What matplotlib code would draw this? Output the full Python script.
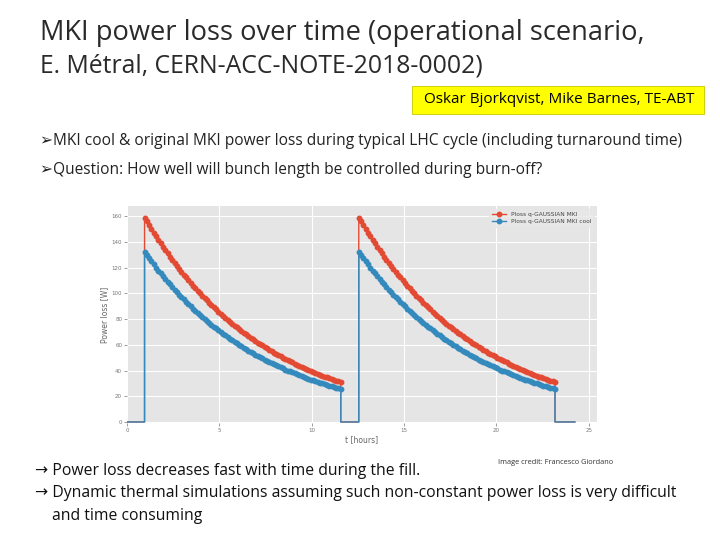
import numpy as np
import matplotlib
matplotlib.use("Agg")
import matplotlib.pyplot as plt
from matplotlib.patches import Rectangle

# ---- data ----
fill_start_1 = 0.95
fill_start_2 = 12.55
cycle_end = 24.25
step_h = 0.125  # sampling step within a fill (hours)

ploss_mki = [159.0, 156.0, 153.0, 150.1, 147.2, 144.4, 141.6, 138.9, 136.3, 133.7,
             131.1, 128.6, 126.2, 123.7, 121.4, 119.1, 116.8, 114.6, 112.4, 110.2,
             108.1, 106.1, 104.0, 102.0, 100.1, 98.2, 96.3, 94.5, 92.7, 90.9,
             89.2, 87.5, 85.8, 84.1, 82.5, 81.0, 79.4, 77.9, 76.4, 75.0,
             73.5, 72.1, 70.7, 69.4, 68.1, 66.8, 65.5, 64.2, 63.0, 61.8,
             60.6, 59.5, 58.3, 57.2, 56.1, 55.1, 54.0, 53.0, 52.0, 51.0,
             50.0, 49.0, 48.1, 47.2, 46.3, 45.4, 44.5, 43.7, 42.9, 42.0,
             41.2, 40.4, 39.7, 38.9, 38.2, 37.4, 36.7, 36.0, 35.3, 34.7,
             34.0, 33.4, 32.7, 32.1, 31.5, 30.9]
ploss_mki_cool = [132.3, 129.8, 127.3, 124.9, 122.5, 120.1, 117.8, 115.6, 113.4, 111.2,
                  109.1, 107.0, 105.0, 103.0, 101.0, 99.1, 97.2, 95.3, 93.5, 91.7,
                  90.0, 88.2, 86.6, 84.9, 83.3, 81.7, 80.1, 78.6, 77.1, 75.6,
                  74.2, 72.8, 71.4, 70.0, 68.7, 67.4, 66.1, 64.8, 63.6, 62.4,
                  61.2, 60.0, 58.9, 57.7, 56.6, 55.5, 54.5, 53.4, 52.4, 51.4,
                  50.4, 49.5, 48.5, 47.6, 46.7, 45.8, 44.9, 44.1, 43.2, 42.4,
                  41.6, 40.8, 40.0, 39.3, 38.5, 37.8, 37.0, 36.3, 35.7, 35.0,
                  34.3, 33.6, 33.0, 32.4, 31.8, 31.1, 30.6, 30.0, 29.4, 28.8,
                  28.3, 27.7, 27.2, 26.7, 26.2, 25.7]
legend_labels = ["Ploss q-GAUSSIAN MKI", "Ploss q-GAUSSIAN MKI cool"]

def build_series(fill):
    fill = np.asarray(fill)
    n = len(fill)
    tf = np.arange(n) * step_h
    t1 = fill_start_1 + tf
    t2 = fill_start_2 + tf
    t = np.concatenate([[0.0, fill_start_1], t1, [t1[-1], fill_start_2], t2, [t2[-1], cycle_end]])
    y = np.concatenate([[0.0, 0.0], fill, [0.0, 0.0], fill, [0.0, 0.0]])
    marks = list(range(2, 2 + n)) + list(range(4 + n, 4 + 2 * n))
    return t, y, marks

fig = plt.figure(figsize=(7.2, 5.4), dpi=100)
fig.patch.set_facecolor("white")

fam = ["Open Sans", "DejaVu Sans"]

# slide title
fig.text(40 / 720, 1 - 33 / 540, "MKI power loss over time (operational scenario,",
         fontsize=19.6, family=fam, color="#2a2a2a", va="center", ha="left")
fig.text(40 / 720, 1 - 66 / 540, "E. Métral, CERN-ACC-NOTE-2018-0002)",
         fontsize=17.8, family=fam, color="#2a2a2a", va="center", ha="left")

# yellow author box
fig.patches.append(Rectangle((412 / 720, 1 - 114 / 540), 292 / 720, 28 / 540,
                             transform=fig.transFigure, facecolor="#FFFF00",
                             edgecolor="#C8C800", linewidth=0.6))
fig.text(559 / 720, 1 - 100 / 540, "Oskar Bjorkqvist, Mike Barnes, TE-ABT",
         fontsize=11.0, family=fam, color="black", va="center", ha="center")

# bullets
fig.text(40 / 720, 1 - 141 / 540,
         "➢MKI cool & original MKI power loss during typical LHC cycle (including turnaround time)",
         fontsize=11.2, family=fam, color="#222222", va="center", ha="left")
fig.text(40 / 720, 1 - 170 / 540,
         "➢Question: How well will bunch length be controlled during burn-off?",
         fontsize=11.2, family=fam, color="#222222", va="center", ha="left")

# chart
ax = fig.add_axes([127 / 720, 1 - 423 / 540, 470 / 720, 217 / 540])
ax.set_facecolor("#E5E5E5")
for s in ax.spines.values():
    s.set_visible(False)
ax.grid(True, color="white", linewidth=0.8)
ax.set_axisbelow(True)

colors = ["#E24A33", "#348ABD"]
for data, c, lab in zip([ploss_mki, ploss_mki_cool], colors, legend_labels):
    t, y, marks = build_series(data)
    ax.plot(t, y, color=c, linewidth=1.0, marker="o", markersize=3.2,
            markevery=marks, label=lab)

ax.set_xlim(0, 25.45)
ax.set_ylim(-0.8, 168)
ax.set_xticks([0, 5, 10, 15, 20, 25])
ax.set_yticks(range(0, 161, 20))
ax.tick_params(labelsize=4, colors="#777777", length=2, width=0.5, pad=1.5)
ax.set_xlabel("t [hours]", fontsize=5.5, color="#666666", labelpad=1.5)
ax.set_ylabel("Power loss [W]", fontsize=5.5, color="#666666", labelpad=2)
leg = ax.legend(loc="upper right", fontsize=4.2, frameon=True, handlelength=2.5,
                borderpad=0.5, labelspacing=0.3)
leg.get_frame().set_facecolor("#E8E8E8")
leg.get_frame().set_edgecolor("#E5E5E5")
for txt in leg.get_texts():
    txt.set_color("#444444")

# credit
fig.text(498 / 720, 1 - 462 / 540, "Image credit: Francesco Giordano",
         fontsize=5.3, family=fam, color="#333333", va="center", ha="left")

# bottom statements
fig.text(35 / 720, 1 - 471 / 540, "→ Power loss decreases fast with time during the fill.",
         fontsize=11.3, family=fam, color="#111111", va="center", ha="left")
fig.text(35 / 720, 1 - 493 / 540,
         "→ Dynamic thermal simulations assuming such non-constant power loss is very difficult",
         fontsize=11.3, family=fam, color="#111111", va="center", ha="left")
fig.text(52 / 720, 1 - 516 / 540, "and time consuming",
         fontsize=11.3, family=fam, color="#111111", va="center", ha="left")

fig.savefig("out.png", dpi=100, facecolor="white")
